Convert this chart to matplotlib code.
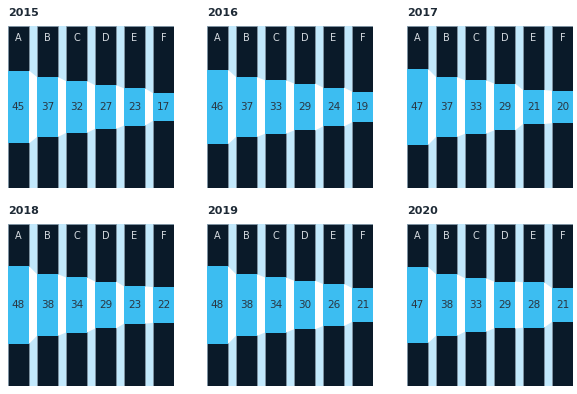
import matplotlib.pyplot as plt
from matplotlib.patches import Rectangle, Polygon

years = ["2015", "2016", "2017", "2018", "2019", "2020"]
labels = ["A", "B", "C", "D", "E", "F"]
v2015 = [45, 37, 32, 27, 23, 17]
v2016 = [46, 37, 33, 29, 24, 19]
v2017 = [47, 37, 33, 29, 21, 20]
v2018 = [48, 38, 34, 29, 23, 22]
v2019 = [48, 38, 34, 30, 26, 21]
v2020 = [47, 38, 33, 29, 28, 21]
values = [v2015, v2016, v2017, v2018, v2019, v2020]

NAVY = "#0a1a29"
BLUE = "#3cbdf1"
PALE = "#c2e8fb"
W, G = 21, 8  # column width and gap in data units

fig = plt.figure(figsize=(5.77, 3.94), dpi=100)
FW, FH = 577, 394
lefts = [8, 207, 407]
tops = [26, 224]
pw, ph = 166, 162

for k, (yr, vals) in enumerate(zip(years, values)):
    r, c = divmod(k, 3)
    x0, y0 = lefts[c], tops[r]
    ax = fig.add_axes([x0 / FW, 1 - (y0 + ph) / FH, pw / FW, ph / FH])
    ax.set_xlim(0, 6 * W + 5 * G)
    ax.set_ylim(100, 0)
    ax.axis("off")
    ax.add_patch(Rectangle((0, 0), 6 * W + 5 * G, 100, color=PALE, zorder=0))

    for i, v in enumerate(vals):
        xl = i * (W + G)
        lo, hi = 50 - v / 2, 50 + v / 2
        ax.add_patch(Rectangle((xl, 0), W, 100, facecolor=NAVY,
                               edgecolor="#8a9aa8", linewidth=0.5, zorder=1))
        ax.add_patch(Rectangle((xl, lo), W, v, facecolor=BLUE,
                               edgecolor="none", zorder=2))
        ax.text(xl + W / 2, 50, str(v), ha="center", va="center",
                fontsize=7.5, color="#2a3642", zorder=3)
        ax.text(xl + W / 2, 7.5, labels[i], ha="center", va="center",
                fontsize=7, color="#d5dbe0", zorder=3)
        if i < len(vals) - 1:
            n = vals[i + 1]
            xr = xl + W
            ax.add_patch(Polygon([(xr, lo), (xr + G, 50 - n / 2),
                                  (xr + G, 50 + n / 2), (xr, hi)],
                                 closed=True, facecolor="white",
                                 edgecolor="none", zorder=1))

    fig.text(x0 / FW, 1 - (y0 - 13) / FH, yr, ha="left", va="center",
             fontsize=8, fontweight="bold", color="#1e2a36")

fig.savefig("out.png", dpi=100)
